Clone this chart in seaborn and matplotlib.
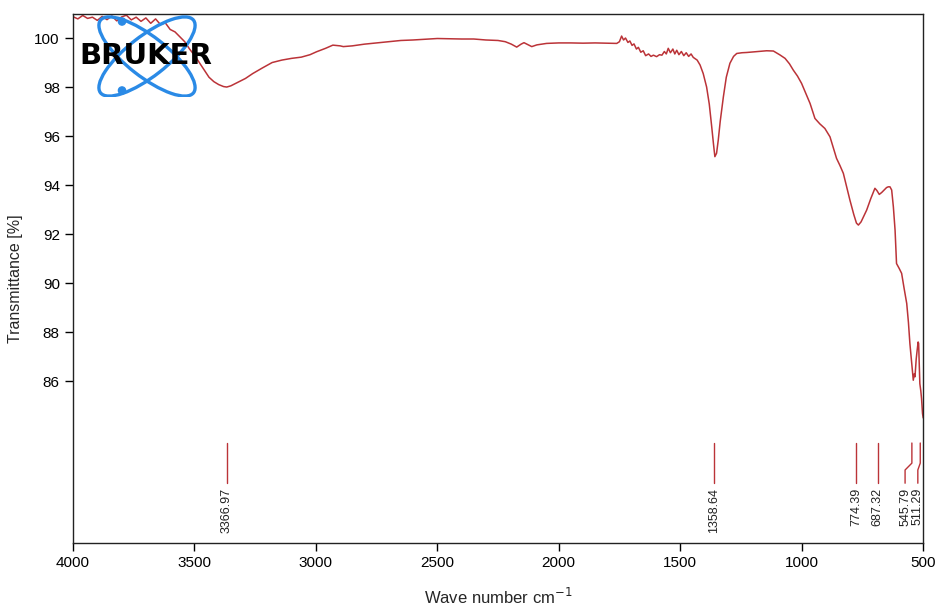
import numpy as np
import pandas as pd
import seaborn as sns
import matplotlib
matplotlib.use('Agg')
import matplotlib.pyplot as plt
import matplotlib.transforms as mtransforms
from matplotlib.patches import Ellipse, Circle

# spectrum
wavenumber = [4000, 3980, 3960, 3940, 3920, 3900, 3880, 3860, 3840, 3820,
              3800, 3780, 3760, 3740, 3720, 3700, 3680, 3660, 3640, 3620,
              3600, 3580, 3560, 3540, 3520, 3500, 3480, 3460, 3440, 3420,
              3400, 3380, 3367, 3350, 3320, 3290, 3260, 3220, 3180, 3140,
              3100, 3060, 3024, 2997, 2960, 2930, 2900, 2887, 2850, 2800,
              2750, 2700, 2650, 2600, 2550, 2500, 2450, 2400, 2350, 2300,
              2250, 2220, 2195, 2173, 2155, 2143, 2125, 2111, 2090, 2050,
              2000, 1950, 1900, 1850, 1800, 1761, 1750, 1741, 1733, 1725,
              1715, 1707, 1698, 1690, 1680, 1672, 1662, 1652, 1642, 1630,
              1620, 1610, 1597, 1585, 1575, 1565, 1557, 1549, 1540, 1530,
              1522, 1514, 1505, 1495, 1485, 1475, 1465, 1455, 1446, 1430,
              1418, 1405, 1391, 1380, 1370, 1363, 1357, 1350, 1343, 1335,
              1322, 1310, 1295, 1280, 1267, 1245, 1226, 1190, 1144, 1116,
              1089, 1068, 1050, 1034, 1017, 1000, 983, 965, 945, 925,
              904, 883, 870, 856, 842, 828, 815, 801, 785, 774,
              766, 755, 743, 732, 715, 698, 690, 680, 670, 660,
              650, 643, 636, 629, 622, 615, 609, 598, 588, 578,
              567, 560, 554, 547, 540, 536, 533, 528, 524, 520,
              518, 515, 513, 509, 506, 502, 499]
transmittance = [100.87, 100.78, 100.92, 100.80, 100.85, 100.72, 100.88, 100.75, 100.90, 100.70,
                 100.86, 100.93, 100.74, 100.85, 100.68, 100.82, 100.60, 100.78, 100.55, 100.62,
                 100.35, 100.25, 100.05, 99.85, 99.55, 99.30, 99.00, 98.70, 98.40, 98.22,
                 98.10, 98.02, 98.00, 98.05, 98.20, 98.35, 98.55, 98.78, 99.00, 99.10,
                 99.17, 99.22, 99.32, 99.44, 99.58, 99.71, 99.68, 99.65, 99.68, 99.75,
                 99.80, 99.85, 99.90, 99.92, 99.95, 99.98, 99.97, 99.96, 99.96, 99.92,
                 99.90, 99.85, 99.75, 99.63, 99.75, 99.81, 99.72, 99.65, 99.72, 99.78,
                 99.80, 99.80, 99.79, 99.80, 99.79, 99.78, 99.85, 100.08, 99.92, 100.00,
                 99.82, 99.88, 99.70, 99.76, 99.55, 99.62, 99.42, 99.48, 99.28, 99.35,
                 99.25, 99.30, 99.24, 99.32, 99.30, 99.45, 99.35, 99.58, 99.40, 99.55,
                 99.35, 99.50, 99.32, 99.45, 99.28, 99.40, 99.25, 99.35, 99.21, 99.10,
                 98.90, 98.55, 98.00, 97.30, 96.38, 95.70, 95.16, 95.30, 95.84, 96.60,
                 97.60, 98.40, 98.97, 99.25, 99.37, 99.40, 99.41, 99.44, 99.48, 99.47,
                 99.31, 99.17, 98.95, 98.69, 98.45, 98.15, 97.75, 97.33, 96.72, 96.50,
                 96.31, 95.97, 95.55, 95.09, 94.80, 94.48, 93.95, 93.39, 92.80, 92.45,
                 92.37, 92.50, 92.75, 92.98, 93.45, 93.87, 93.78, 93.62, 93.70, 93.80,
                 93.90, 93.93, 93.93, 93.80, 93.11, 92.16, 90.80, 90.60, 90.40, 89.80,
                 89.17, 88.40, 87.54, 86.80, 86.04, 86.30, 86.18, 86.90, 87.27, 87.60,
                 87.54, 86.60, 85.90, 85.60, 85.29, 84.68, 84.50]

peaks = [3366.97, 1358.64, 774.39, 687.32, 545.79, 511.29]
peak_labels = ['3366.97', '1358.64', '774.39', '687.32', '545.79', '511.29']

x_ticks = [4000, 3500, 3000, 2500, 2000, 1500, 1000, 500]
y_ticks = [86, 88, 90, 92, 94, 96, 98, 100]

df = pd.DataFrame({'wn': wavenumber, 't': transmittance})

sns.set_style('ticks')
plt.rcParams['font.family'] = ['Liberation Sans', 'DejaVu Sans']

red = '#bb3338'
W, H = 938, 606
fig = plt.figure(figsize=(W / 100, H / 100), dpi=100)
ax = fig.add_axes([73 / W, 1 - 543 / H, 850 / W, 529 / H])

sns.lineplot(data=df, x='wn', y='t', ax=ax, color=red, lw=1.1)

ax.set_xlim(4000, 500)
ax.set_ylim(79.4, 100.98)
ax.set_xticks(x_ticks)
ax.set_yticks(y_ticks)
ax.tick_params(axis='both', direction='out', length=6, width=1, labelsize=11, colors='black')
for s in ax.spines.values():
    s.set_visible(True)
    s.set_color('#222222')
    s.set_linewidth(1.0)
ax.set_xlabel('Wave number cm$^{-1}$', fontsize=12, labelpad=12)
ax.set_ylabel('Transmittance [%]', fontsize=11.5, labelpad=8)

# peak markers
trans = mtransforms.blended_transform_factory(ax.transData, ax.transAxes)
label_shift = [0, 0, 0, 0, 28, 10]   # labels pushed left so they don't overlap
y_top, y_b1, y_b2, y_bot, y_txt = 0.189, 0.151, 0.138, 0.113, 0.104
for p, lab, sh in zip(peaks, peak_labels, label_shift):
    xl = p + sh
    ax.plot([p, p, xl, xl], [y_top, y_b1, y_b2, y_bot], transform=trans,
            color=red, lw=1.0, clip_on=False)
    ax.text(xl, y_txt, lab, transform=trans, rotation=90, ha='center', va='top',
            fontsize=9, color='#222222')

# Bruker logo
lax = fig.add_axes([75 / W, 1 - 97 / H, 147 / W, 83 / H])
lax.set_xlim(75, 222)
lax.set_ylim(97, 14)
lax.axis('off')
blue = '#2a8ae6'
for ang in (38, -38):
    lax.add_patch(Ellipse((147, 56.5), 118, 40, angle=ang, fill=False,
                          ec=blue, lw=2.4))
lax.add_patch(Circle((122, 21.5), 3.6, color=blue))
lax.add_patch(Circle((122, 90.5), 3.6, color=blue))
lax.text(146, 56, 'BRUKER', ha='center', va='center', fontsize=21,
         fontweight='heavy', family='DejaVu Sans', color='black')

fig.savefig('out.png', dpi=100)
